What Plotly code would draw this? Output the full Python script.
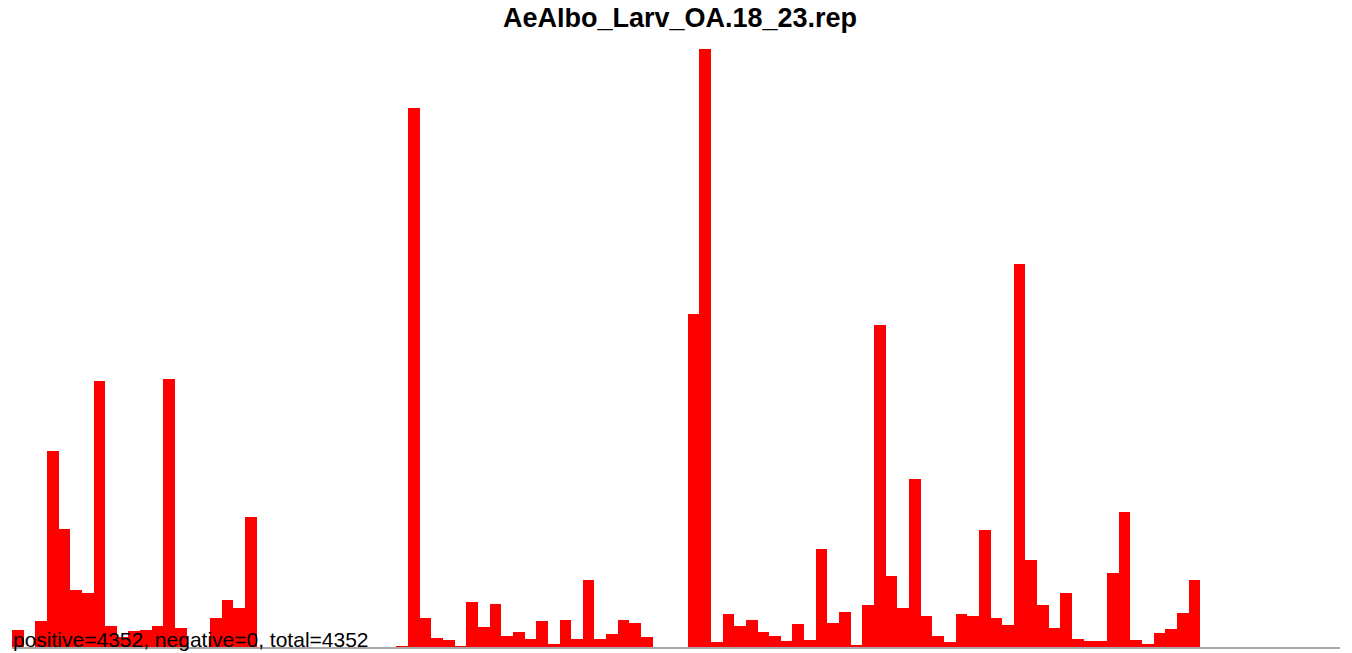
import plotly.graph_objects as go

title_text = "AeAlbo_Larv_OA.18_23.rep"
footer_text = "positive=4352, negative=0, total=4352"

# 114 bins, heights
bins = list(range(114))
values = [
    17, 0, 26, 196, 118, 57, 54, 266, 21, 10,
    16, 17, 21, 268, 19, 0, 0, 29, 47, 39,
    130, 0, 0, 0, 0, 0, 0, 0, 0, 0,
    0, 0, 0, 1, 539, 29, 9, 7, 1, 45,
    20, 43, 11, 15, 8, 26, 3, 27, 8, 67,
    8, 13, 27, 24, 10, 0, 0, 0, 333, 598,
    5, 33, 21, 27, 15, 11, 6, 23, 7, 98,
    24, 35, 2, 42, 322, 71, 39, 168, 31, 11,
    5, 33, 31, 117, 29, 22, 383, 87, 42, 19,
    54, 8, 6, 6, 74, 135, 7, 3, 14, 18,
    34, 67, 0, 0, 0, 0, 0, 0, 0, 0,
    0, 0, 0, 0,
]

fig = go.Figure(
    go.Bar(
        x=bins,
        y=values,
        marker=dict(color="#FF0000", line=dict(width=0)),
        width=1.0,
        hoverinfo="x+y",
    )
)

# page body has an 8px default margin, so the figure is offset by 8px
fig.update_layout(
    width=1344,
    height=645,
    margin=dict(l=4, r=12, t=41, b=6, autoexpand=False),
    paper_bgcolor="white",
    plot_bgcolor="white",
    bargap=0,
    showlegend=False,
    font=dict(family="Liberation Sans, Arial, sans-serif", color="black"),
    title=dict(
        text="<b>" + title_text + "</b>",
        x=0.5,
        xanchor="center",
        yref="container",
        y=1.0,
        yanchor="top",
        font=dict(size=27, color="black", family="Liberation Sans, Arial, sans-serif"),
    ),
    xaxis=dict(
        range=[-0.5, len(bins) - 0.5],
        showgrid=False,
        zeroline=False,
        showticklabels=False,
        ticks="",
        showline=True,
        linecolor="#A8A8A8",
        linewidth=2,
        layer="below traces",
        fixedrange=True,
    ),
    yaxis=dict(
        range=[0, max(values)],
        showgrid=False,
        zeroline=False,
        showticklabels=False,
        ticks="",
        showline=False,
        fixedrange=True,
    ),
    annotations=[
        dict(
            text=footer_text,
            xref="paper",
            yref="paper",
            x=0,
            y=0,
            xanchor="left",
            yanchor="bottom",
            xshift=-1,
            yshift=-6,
            showarrow=False,
            font=dict(size=21, color="black", family="Liberation Sans, Arial, sans-serif"),
        )
    ],
)

fig.write_html("out.html")
